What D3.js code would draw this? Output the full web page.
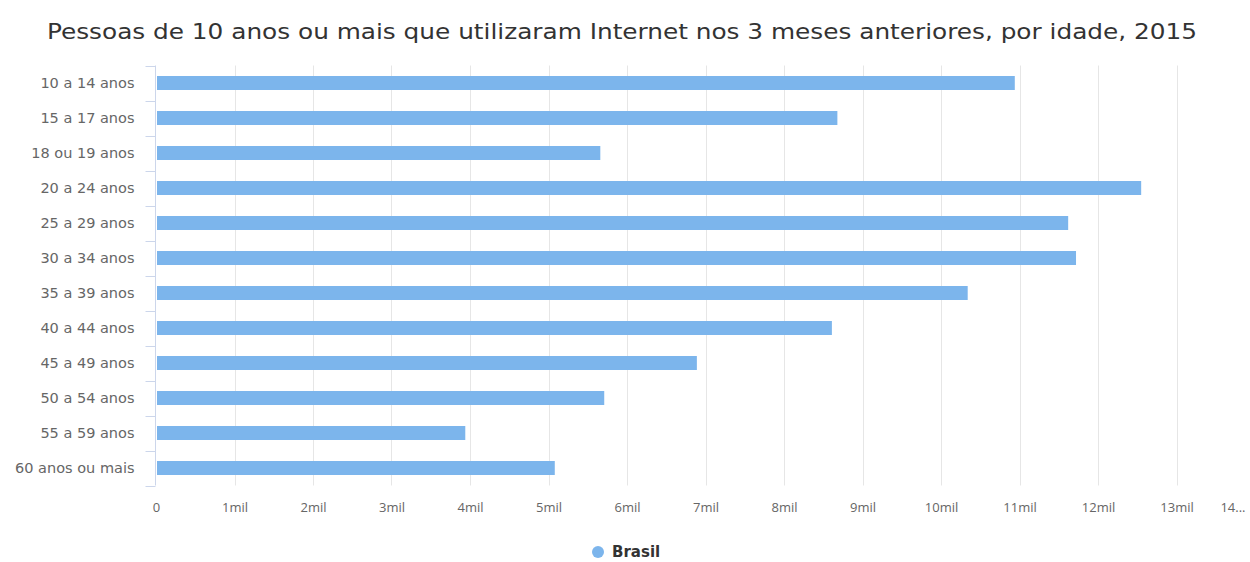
<!DOCTYPE html>
<html>
<head>
<meta charset="utf-8">
<script src="https://cdn.jsdelivr.net/npm/d3@7/dist/d3.min.js"></script>
<style>
  html, body { margin: 0; padding: 0; background: #fff; }
  svg { display: block; font-family: "DejaVu Sans", "Open Sans", sans-serif; }
</style>
</head>
<body>
<svg id="chart" width="1250" height="562"></svg>
<script>
// Age groups and number of people (thousands) who used the Internet
const categories = [
  "10 a 14 anos", "15 a 17 anos", "18 ou 19 anos", "20 a 24 anos",
  "25 a 29 anos", "30 a 34 anos", "35 a 39 anos", "40 a 44 anos",
  "45 a 49 anos", "50 a 54 anos", "55 a 59 anos", "60 anos ou mais"
];
const brasil = [10940, 8680, 5660, 12550, 11620, 11720, 10340, 8610, 6890, 5710, 3940, 5080];
const tickValues = d3.range(0, 15000, 1000);
const tickLabels = ["0", "1mil", "2mil", "3mil", "4mil", "5mil", "6mil", "7mil",
  "8mil", "9mil", "10mil", "11mil", "12mil", "13mil", "14..."];
const seriesName = "Brasil";
const titleText = "Pessoas de 10 anos ou mais que utilizaram Internet nos 3 meses anteriores, por idade, 2015";

const svg = d3.select("#chart");
const margin = { left: 156, top: 65.5, bottom: 485.5 };
const plotRight = 1255;

const x = d3.scaleLinear().domain([0, 14000]).range([margin.left, plotRight]);
const y = d3.scaleBand().domain(categories).range([margin.top, margin.bottom]).paddingInner(0).paddingOuter(0);

// Title
svg.append("text")
  .attr("x", 622).attr("y", 39)
  .attr("text-anchor", "middle")
  .attr("fill", "#333")
  .attr("textLength", 1150)
  .attr("lengthAdjust", "spacingAndGlyphs")
  .style("font-family", "\"DejaVu Sans Condensed\", \"DejaVu Sans\", sans-serif")
  .style("font-size", "21px")
  .text(titleText);

// Vertical grid lines
svg.append("g")
  .selectAll("line")
  .data(tickValues.slice(1))
  .join("line")
  .attr("x1", d => Math.round(x(d)) + 0.5).attr("x2", d => Math.round(x(d)) + 0.5)
  .attr("y1", margin.top).attr("y2", margin.bottom)
  .attr("stroke", "#e6e6e6").attr("stroke-width", 1);

// Bars
const barH = 14;
svg.append("g")
  .selectAll("rect")
  .data(brasil)
  .join("rect")
  .attr("x", x(0) + 1)
  .attr("y", (d, i) => y(categories[i]) + y.bandwidth() / 2 - barH / 2)
  .attr("width", d => x(d) - x(0) - 1)
  .attr("height", barH)
  .attr("fill", "#7cb5ec");

// Category axis (left) with ticks between categories
const yAxis = svg.append("g").attr("transform", `translate(${margin.left - 0.5},0)`);
yAxis.append("line")
  .attr("x1", 0).attr("x2", 0)
  .attr("y1", margin.top).attr("y2", margin.bottom)
  .attr("stroke", "#ccd6eb");
yAxis.selectAll("line.tick")
  .data(categories.concat(["__end"]))
  .join("line")
  .attr("class", "tick")
  .attr("x1", -10).attr("x2", 0)
  .attr("y1", (d, i) => Math.round(margin.top + i * y.bandwidth()) + 0.5)
  .attr("y2", (d, i) => Math.round(margin.top + i * y.bandwidth()) + 0.5)
  .attr("stroke", "#ccd6eb");
yAxis.selectAll("text")
  .data(categories)
  .join("text")
  .attr("x", -21)
  .attr("y", d => y(d) + y.bandwidth() / 2)
  .attr("dy", "0.35em")
  .attr("text-anchor", "end")
  .attr("fill", "#666")
  .style("font-size", "14.5px")
  .text(d => d);

// Value axis labels
const xAxis = d3.axisBottom(x)
  .tickValues(tickValues)
  .tickSize(0)
  .tickPadding(0)
  .tickFormat((d, i) => tickLabels[i]);
const gx = svg.append("g")
  .attr("transform", `translate(0,${margin.bottom + 17})`)
  .call(xAxis);
gx.select(".domain").remove();
gx.selectAll("text")
  .attr("fill", "#666")
  .style("font-size", "13px")
  .style("font-family", "\"Open Sans\", \"DejaVu Sans\", sans-serif");
// last label is clipped by the chart edge
gx.selectAll(".tick").filter(d => d === 14000)
  .select("text").attr("text-anchor", "end").attr("x", -10);

// Legend
const legend = svg.append("g").attr("transform", "translate(598,552)");
legend.append("circle").attr("r", 6).attr("fill", "#7cb5ec");
legend.append("text")
  .attr("x", 14).attr("dy", "0.35em")
  .attr("fill", "#333")
  .style("font-size", "15px").style("font-weight", "bold")
  .text(seriesName);
</script>
</body>
</html>
